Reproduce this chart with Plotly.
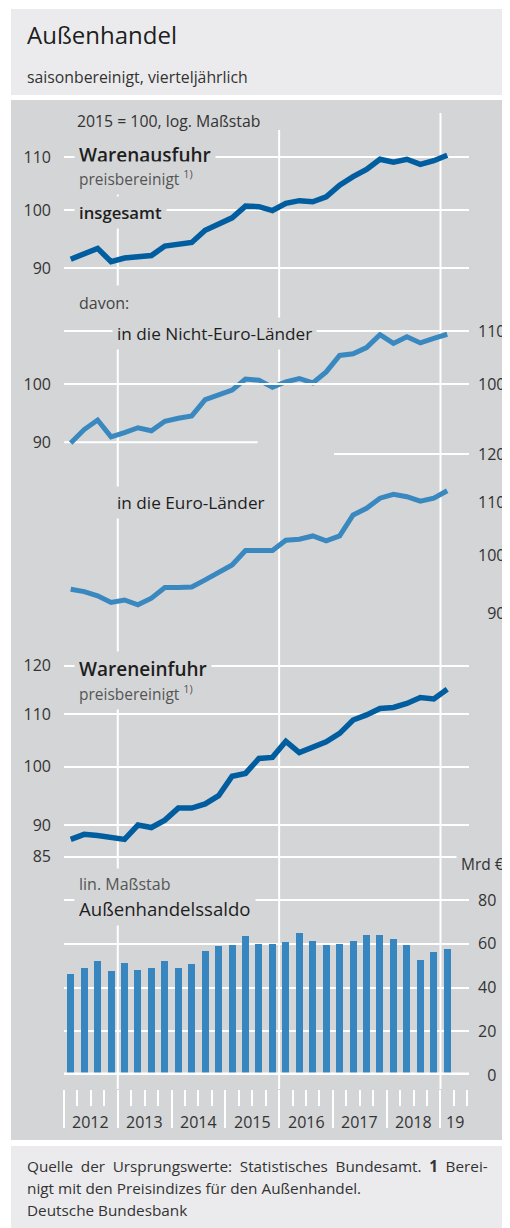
import math
import plotly.graph_objects as go

# ---------------- data ----------------
quarters = ["2012Q1", "2012Q2", "2012Q3", "2012Q4", "2013Q1", "2013Q2", "2013Q3", "2013Q4",
            "2014Q1", "2014Q2", "2014Q3", "2014Q4", "2015Q1", "2015Q2", "2015Q3", "2015Q4",
            "2016Q1", "2016Q2", "2016Q3", "2016Q4", "2017Q1", "2017Q2", "2017Q3", "2017Q4",
            "2018Q1", "2018Q2", "2018Q3", "2018Q4", "2019Q1"]

exports_total = [91.5, 92.5, 93.3, 91.1, 91.7, 91.9, 92.1, 93.7, 94.0, 94.3, 96.4, 97.6, 98.6,
                 100.7, 100.6, 99.9, 101.2, 101.7, 101.5, 102.4, 104.6, 106.2, 107.6, 109.6,
                 109.0, 109.6, 108.6, 109.3, 110.4]
exports_non_euro = [89.9, 92.1, 93.7, 90.9, 91.6, 92.4, 91.9, 93.5, 94.0, 94.4, 97.2, 98.0, 98.9,
                    100.9, 100.7, 99.4, 100.4, 101.0, 100.2, 102.2, 105.3, 105.6, 106.8, 109.3,
                    107.6, 108.9, 107.7, 108.6, 109.4]
exports_euro = [94.0, 93.6, 92.9, 91.8, 92.2, 91.4, 92.5, 94.3, 94.3, 94.4, 95.6, 97.0, 98.2,
                100.8, 100.8, 100.8, 102.7, 102.9, 103.5, 102.6, 103.5, 107.5, 108.8, 110.8,
                111.6, 111.1, 110.2, 110.8, 112.3]
imports_total = [87.7, 88.5, 88.3, 88.1, 87.7, 90.0, 89.6, 90.8, 92.8, 92.8, 93.5, 94.9, 98.3,
                 98.8, 101.5, 101.7, 104.7, 102.6, 103.5, 104.6, 106.2, 108.8, 109.8, 111.1,
                 111.3, 112.1, 113.3, 113.0, 115.0]
trade_balance = [46.0, 49.0, 52.1, 47.5, 51.3, 48.0, 49.0, 51.9, 49.0, 50.9, 56.6, 59.2, 59.5,
                 63.5, 59.7, 59.7, 60.8, 64.7, 61.1, 59.4, 60.0, 61.2, 64.0, 64.1, 62.0, 59.5,
                 52.8, 56.2, 57.4]

year_labels = ["2012", "2013", "2014", "2015", "2016", "2017", "2018", "19"]
year_label_pos = [2012.5, 2013.5, 2014.5, 2015.5, 2016.5, 2017.5, 2018.5, 2019.27]
year_bounds = [2012, 2013, 2014, 2015, 2016, 2017, 2018, 2019]
quarter_bounds = [y + q / 4 for y in range(2012, 2020) for q in (1, 2, 3) if y + q / 4 < 2019.6]

ticks_p1 = [90, 100, 110]
ticks_p2_left = [90, 100]
ticks_p2_right = [100, 110]
ticks_p3 = [90, 100, 110, 120]
ticks_p3_text = ["\u200790", "100", "110", "120"]
ticks_p4 = [85, 90, 100, 110, 120]
ticks_bar = [0, 20, 40, 60, 80]
ticks_bar_text = ["\u20070", "20", "40", "60", "80"]

# quarter centre positions on a decimal-year axis
xpos = [int(q[:4]) + (int(q[5]) - 1) / 4 + 0.125 for q in quarters]

# ---------------- layout helpers ----------------
OFF = 8                      # page body margin
W, H = 510 - OFF, 1228 - OFF
K = 1275.0                   # px per decade of the log scales
FONT = "Open Sans"
DARK = "#005d9f"
LIGHT = "#3a88c0"
BAR = "#3886bf"
CHART_BG = "#d4d5d7"
BOX_BG = "#ebebed"
TXT = "#222222"

def fx(px):
    return (px - OFF) / W

def py(px):
    return 1 - (px - OFF) / H

def dom(top, bot):
    return [py(bot), py(top)]

def lrange(top, bot, ref_px, ref_val=100.0):
    return [math.log10(ref_val) + (ref_px - bot) / K, math.log10(ref_val) + (ref_px - top) / K]

X_RANGE = [2012, 2019.53]
tickfont = dict(family=FONT, size=16, color="#333333")

def yax(**kw):
    base = dict(anchor="x", showgrid=False, gridcolor="white", gridwidth=2, zeroline=False,
                showline=False, ticks="", tickfont=tickfont, tickmode="array", fixedrange=True,
                ticklabeloverflow="allow")
    base.update(kw)
    return base

fig = go.Figure()

fig.add_trace(go.Scatter(x=xpos, y=exports_total, yaxis="y", mode="lines",
                         line=dict(color=DARK, width=5.5)))
fig.add_trace(go.Scatter(x=xpos, y=exports_non_euro, yaxis="y2", mode="lines",
                         line=dict(color=LIGHT, width=5)))
# same series bound (invisibly) to the right-hand scale of the panel so that axis gets drawn
fig.add_trace(go.Scatter(x=xpos, y=exports_non_euro, yaxis="y3", mode="lines",
                         line=dict(color=LIGHT, width=5), opacity=0))
fig.add_trace(go.Scatter(x=xpos, y=exports_euro, yaxis="y4", mode="lines",
                         line=dict(color=LIGHT, width=5)))
fig.add_trace(go.Scatter(x=xpos, y=imports_total, yaxis="y6", mode="lines",
                         line=dict(color=DARK, width=5.5)))
fig.add_trace(go.Bar(x=xpos, y=trade_balance, yaxis="y7", width=0.13,
                     marker=dict(color=BAR, line=dict(width=0))))

p1 = (135, 280, 210.0)
p2 = (315, 450, 384.0)
p3 = (445, 625, 555.0)
p4 = (650, 865, 766.7)
bar_top, bar_bot, px_per20 = 880, 1075, 43.75

fig.update_layout(
    width=W, height=H, template="none",
    margin=dict(l=0, r=0, t=0, b=0),
    paper_bgcolor="white", plot_bgcolor="rgba(0,0,0,0)",
    showlegend=False, hovermode=False, bargap=0,
    font=dict(family=FONT, color=TXT),
    xaxis=dict(domain=[fx(64), fx(469)], range=X_RANGE, anchor="free", position=py(1089),
               showgrid=False, zeroline=False, showline=False, ticks="outside",
               tickmode="array", tickvals=year_bounds, ticklen=38, tickwidth=2,
               tickcolor="white", showticklabels=False, fixedrange=True,
               minor=dict(tickmode="array", tickvals=quarter_bounds, ticks="outside",
                          ticklen=16, tickwidth=2, tickcolor="white", showgrid=False)),
    yaxis=yax(type="log", domain=dom(p1[0], p1[1]), range=lrange(*p1), side="left",
              tickvals=ticks_p1, ticktext=[str(v) for v in ticks_p1], showgrid=True,
              ticklabelstandoff=12),
    yaxis2=yax(type="log", domain=dom(p2[0], p2[1]), range=lrange(*p2), side="left",
               tickvals=ticks_p2_left, ticktext=[str(v) for v in ticks_p2_left],
               ticklabelstandoff=12),
    yaxis3=yax(type="log", domain=dom(p2[0], p2[1]), range=lrange(*p2), side="right",
               tickvals=ticks_p2_right, ticktext=[str(v) for v in ticks_p2_right],
               showgrid=True, ticklabelstandoff=8),
    yaxis4=yax(type="log", domain=dom(p3[0], p3[1]), range=lrange(*p3), side="right",
               tickvals=ticks_p3, ticktext=ticks_p3_text, ticklabelstandoff=8),
    yaxis5=yax(type="log", domain=dom(p3[0], p3[1]), range=lrange(*p3), side="right",
               tickvals=ticks_p3[:3], showticklabels=False, showgrid=True),
    yaxis6=yax(type="log", domain=dom(p4[0], p4[1]), range=lrange(*p4), side="left",
               tickvals=ticks_p4, ticktext=[str(v) for v in ticks_p4], showgrid=True,
               ticklabelstandoff=12),
    yaxis7=yax(domain=dom(bar_top, bar_bot), range=[0, (bar_bot - bar_top) / px_per20 * 20],
               side="right", tickvals=ticks_bar, ticktext=ticks_bar_text, showgrid=True,
               ticklabelstandoff=8),
)

shapes = []
# background panels
shapes.append(dict(type="rect", xref="paper", yref="paper", x0=fx(11), x1=1, y0=py(95), y1=py(9),
                   fillcolor=BOX_BG, line=dict(width=0), layer="below"))
shapes.append(dict(type="rect", xref="paper", yref="paper", x0=fx(11), x1=1, y0=py(1140), y1=py(100),
                   fillcolor=CHART_BG, line=dict(width=0), layer="below"))
shapes.append(dict(type="rect", xref="paper", yref="paper", x0=fx(11), x1=1, y0=0, y1=py(1146),
                   fillcolor=BOX_BG, line=dict(width=0), layer="below"))
# vertical grid lines (2013, 2016, 2019) with the height where each one starts
for xv, top_px in ((2013, 190), (2016, 130), (2019, 113)):
    shapes.append(dict(type="line", xref="x", yref="paper", x0=xv, x1=xv, y0=py(1089), y1=py(top_px),
                       line=dict(color="white", width=2), layer="below"))
# partial grid lines
shapes.append(dict(type="line", xref="x", yref="y2", x0=2012, x1=2015.6, y0=90, y1=90,
                   line=dict(color="white", width=2), layer="below"))
shapes.append(dict(type="line", xref="x", yref="y4", x0=2017.02, x1=X_RANGE[1], y0=120, y1=120,
                   line=dict(color="white", width=2), layer="below"))
# zero line of the bar panel
shapes.append(dict(type="line", xref="x", yref="y7", x0=X_RANGE[0], x1=X_RANGE[1], y0=0, y1=0,
                   line=dict(color="white", width=5), layer="above"))
fig.update_layout(shapes=shapes)

def label(text, xpx, ypx, size=15.5, color=TXT, weight=400, bg=CHART_BG, pad=4):
    fig.add_annotation(text=text, xref="paper", yref="paper", x=fx(xpx - pad), y=py(ypx),
                       xanchor="left", yanchor="middle", showarrow=False,
                       font=dict(family=FONT, size=size, color=color, weight=weight),
                       bgcolor=bg, borderpad=pad, align="left")

# year labels under the x axis
for lab, xv in zip(year_labels, year_label_pos):
    fig.add_annotation(text=lab, xref="x", yref="paper", x=xv, y=py(1121.5),
                       xanchor="center", yanchor="middle", showarrow=False, font=tickfont)

label("Außenhandel", 26, 35, size=24, color="#1e1e1e", weight=500, bg=None)
label("saisonbereinigt, vierteljährlich", 26, 77, size=15.8, color="#333333", bg=None)
label("2015 = 100, log. Maßstab", 76, 121, size=15.8, color="#333333", pad=6)
label("Warenausfuhr", 78, 155, size=19, color="#1e1e1e", weight=600)
label("preisbereinigt <sup>1)</sup>", 78, 178, size=15.5, color="#555555")
label("insgesamt", 78, 212, size=16.7, color="#1e1e1e", weight=600)
label("davon:", 78, 303, size=16, color="#444444", pad=6)
label("in die Nicht-Euro-Länder", 116, 333, size=17.2, color="#1e1e1e", weight=500)
label("in die Euro-Länder", 116, 502, size=17.2, color="#1e1e1e", weight=500)
label("Wareneinfuhr", 78, 669, size=19, color="#1e1e1e", weight=600)
label("preisbereinigt <sup>1)</sup>", 78, 693, size=15.5, color="#555555")
label("lin. Maßstab", 78, 884, size=16, color="#555555")
label("Außenhandelssaldo", 78, 908, size=18.6, color="#1e1e1e", weight=500)
label("Mrd €", 460, 864, size=15.5, color="#333333")
footer_line1 = "\u2002".join(["Quelle", "der", "Ursprungswerte:", "Statistisches", "Bundesamt.",
                              "<b>1</b>", "Berei-"])
label(footer_line1, 26, 1166, size=15.3, color="#333333", bg=None)
label("nigt mit den Preisindizes für den Außenhandel.", 26, 1188, size=15.3, color="#333333", bg=None)
label("Deutsche Bundesbank", 26, 1210, size=15.3, color="#333333", bg=None)

fig.write_html("out.html")
